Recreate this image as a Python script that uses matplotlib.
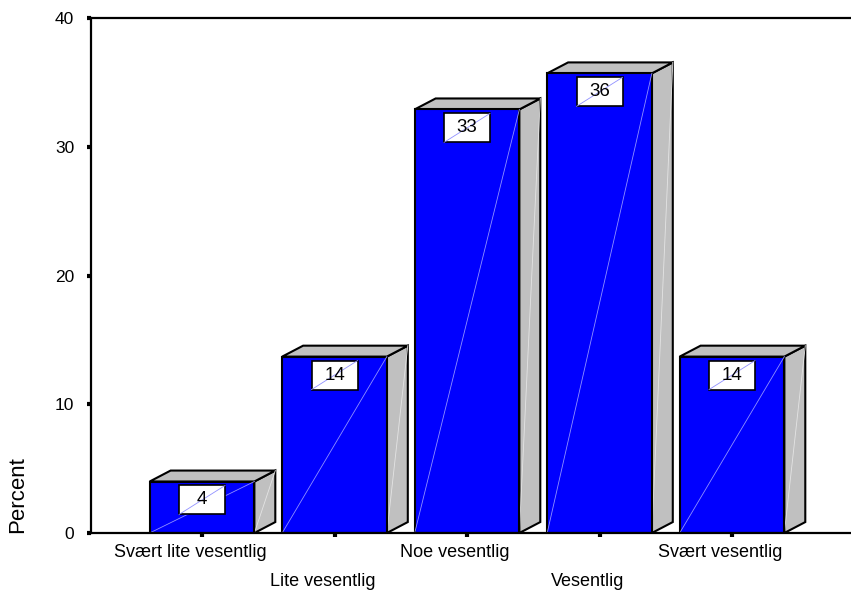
import matplotlib
matplotlib.use("Agg")
from matplotlib import pyplot as plt
from matplotlib.patches import Polygon, Rectangle
from matplotlib.transforms import ScaledTranslation

# data
categories = ["Svært lite vesentlig", "Lite vesentlig", "Noe vesentlig", "Vesentlig", "Svært vesentlig"]
percents = [4.0, 13.7, 32.9, 35.7, 13.7]
yticks = [0, 10, 20, 30, 40]

plt.rcParams["font.family"] = ["Liberation Sans", "DejaVu Sans"]

fig = plt.figure(figsize=(8.51, 5.91), dpi=100)
ax = fig.add_axes([91 / 851, 58 / 591, 760 / 851, 515 / 591])

width = 0.79
dx = 0.158  # depth offset (x)
dy = 0.85   # depth offset (y)
box_w = 0.347
box_h = 2.25

for i, v in enumerate(percents):
    x0 = i - width / 2
    x1 = i + width / 2
    # side face
    side = Polygon([(x1, 0), (x1 + dx, dy), (x1 + dx, v + dy), (x1, v)], closed=True,
                   facecolor="#c0c0c0", edgecolor="black", lw=1.5, zorder=2)
    ax.add_patch(side)
    # top face
    top = Polygon([(x0, v), (x0 + dx, v + dy), (x1 + dx, v + dy), (x1, v)], closed=True,
                  facecolor="#c0c0c0", edgecolor="black", lw=1.5, zorder=2)
    ax.add_patch(top)
    # front face
    ax.add_patch(Rectangle((x0, 0), width, v, facecolor="#0000ff", edgecolor="black",
                           lw=1.5, zorder=3))
    ax.plot([x0, x1], [0, v], color="#9090ff", lw=0.6, zorder=4)
    ax.plot([x1, x1 + dx], [0, v + dy], color="#e4e4e4", lw=0.6, zorder=2.5)
    # value label box
    by = v - 0.31 - box_h
    ax.add_patch(Rectangle((i - box_w / 2, by), box_w, box_h, facecolor="white",
                           edgecolor="black", lw=1.2, zorder=5))
    ax.plot([i - box_w / 2, i + box_w / 2], [by, by + box_h], color="#9090ff", lw=0.6, zorder=6)
    ax.text(i, by + box_h / 2, f"{round(v)}", ha="center", va="center", fontsize=13.5, zorder=7)

ax.set_xlim(-0.838, 4.898)
ax.set_ylim(0, 40)

ax.spines["right"].set_visible(False)
for s in ["left", "top", "bottom"]:
    ax.spines[s].set_linewidth(1.6)
ax.spines["bottom"].set_zorder(6)

ax.set_yticks(yticks)
ax.set_xticks(range(len(categories)))
ax.set_xticklabels(categories)
ax.tick_params(axis="both", direction="out", length=3, width=3)
ax.tick_params(axis="x", labelsize=13)
ax.tick_params(axis="y", pad=9, labelsize=12.5)
for i, t in enumerate(ax.xaxis.get_major_ticks()):
    t.set_pad(5 if i % 2 == 0 else 26)
# labels sit a little left of the ticks in the original
shift = ScaledTranslation(-12 / 100, 0, fig.dpi_scale_trans)
for lab in ax.get_xticklabels():
    lab.set_transform(lab.get_transform() + shift)

ax.set_ylabel("Percent", fontsize=16)
ax.yaxis.set_label_coords(-0.083, 0.074)

fig.savefig("out.png", dpi=100)
